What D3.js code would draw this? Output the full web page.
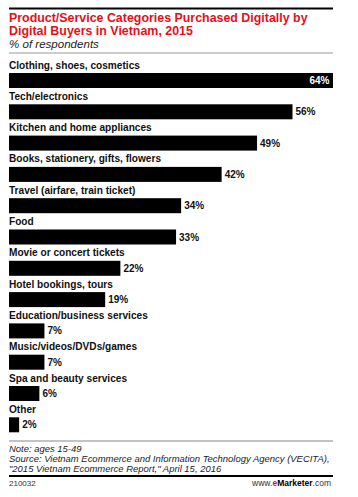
<!DOCTYPE html>
<html><head><meta charset="utf-8">
<script src="https://cdn.jsdelivr.net/npm/d3@7"></script>
<style>
html,body{margin:0;padding:0;background:#fff;}
svg{display:block;}
text{font-family:"Liberation Sans",Arial,sans-serif;}
</style>
</head><body>
<div id="chart"></div>
<script>
const categories = [
  "Clothing, shoes, cosmetics",
  "Tech/electronics",
  "Kitchen and home appliances",
  "Books, stationery, gifts, flowers",
  "Travel (airfare, train ticket)",
  "Food",
  "Movie or concert tickets",
  "Hotel bookings, tours",
  "Education/business services",
  "Music/videos/DVDs/games",
  "Spa and beauty services",
  "Other"
];
const values = [64, 56, 49, 42, 34, 33, 22, 19, 7, 7, 6, 2];
const titleLines = ["Product/Service Categories Purchased Digitally by", "Digital Buyers in Vietnam, 2015"];
const subtitle = "% of respondents";
const noteLines = ["Note: ages 15-49",
  "Source: Vietnam Ecommerce and Information Technology Agency (VECITA),",
  "\"2015 Vietnam Ecommerce Report,\" April 15, 2016"];
const chartId = "210032";

const W = 358, H = 497, L = 9, R = 333;
const svg = d3.select("#chart").append("svg").attr("width", W).attr("height", H);

function fit(sel, target) {
  let fs = parseFloat(sel.attr("font-size"));
  const w = sel.node().getComputedTextLength();
  sel.attr("font-size", fs * target / w);
}

// top rule
svg.append("rect").attr("x", L).attr("y", 7.5).attr("width", R - L).attr("height", 2).attr("fill", "#000");

const t1 = svg.append("text").attr("x", L).attr("y", 21.5).attr("font-size", 13).attr("font-weight", "bold")
  .attr("fill", "#e3101b").text(titleLines[0]);
fit(t1, 299);
const tfs = t1.attr("font-size");
svg.append("text").attr("x", L).attr("y", 35).attr("font-size", tfs).attr("font-weight", "bold")
  .attr("fill", "#e3101b").text(titleLines[1]);
const st = svg.append("text").attr("x", L).attr("y", 47.5).attr("font-size", 12).attr("font-style", "italic")
  .attr("fill", "#222").text(subtitle);
fit(st, 90);

svg.append("rect").attr("x", L).attr("y", 52.5).attr("width", R - L).attr("height", 1).attr("fill", "#999");

const x = d3.scaleLinear().domain([0, 64]).range([L, R]);
const y = d3.scaleBand().domain(categories).range([73, 73 + 31.3 * categories.length]).paddingInner(0).paddingOuter(0);
const barH = 15;

const g = svg.append("g");
const rows = g.selectAll("g.row").data(categories.map((c, i) => ({c, v: values[i]}))).join("g").attr("class", "row");

const labels = rows.append("text").attr("x", L).attr("y", d => y(d.c) - 4.5)
  .attr("font-size", 11).attr("font-weight", "bold").attr("fill", "#111").text(d => d.c);
// fit label font size using first label
fit(labels.filter((d, i) => i === 0), 131);
const lfs = labels.filter((d, i) => i === 0).attr("font-size");
labels.attr("font-size", lfs);

rows.append("rect").attr("x", x(0)).attr("y", d => y(d.c)).attr("width", d => x(d.v) - x(0)).attr("height", barH).attr("fill", "#000");

rows.append("text")
  .attr("x", (d, i) => i === 0 ? x(d.v) - 3.5 : x(d.v) + 3)
  .attr("y", d => y(d.c) + barH / 2 + 3.5)
  .attr("text-anchor", (d, i) => i === 0 ? "end" : "start")
  .attr("font-size", 10).attr("font-weight", "bold")
  .attr("fill", (d, i) => i === 0 ? "#fff" : "#111")
  .text(d => d.v + "%");

// footer
svg.append("rect").attr("x", L).attr("y", 440.5).attr("width", R - L).attr("height", 1).attr("fill", "#888");
const nl = svg.selectAll("text.note").data(noteLines).join("text").attr("class", "note")
  .attr("x", L).attr("y", (d, i) => 452 + i * 10).attr("font-size", 10).attr("font-style", "italic")
  .attr("fill", "#222").text(d => d);
fit(nl.filter((d, i) => i === 1), 321);
const nfs = nl.filter((d, i) => i === 1).attr("font-size");
nl.attr("font-size", nfs);

svg.append("rect").attr("x", L).attr("y", 475).attr("width", R - L).attr("height", 2).attr("fill", "#000");
svg.append("text").attr("x", L).attr("y", 486).attr("font-size", 8).attr("fill", "#333").text(chartId);
const em = svg.append("text").attr("x", 331).attr("y", 486).attr("font-size", 8.5).attr("text-anchor", "end").attr("fill", "#333");
em.append("tspan").text("www.");
em.append("tspan").attr("font-weight", "bold").attr("fill", "#e3101b").text("e");
em.append("tspan").attr("font-weight", "bold").attr("fill", "#000").text("Marketer");
em.append("tspan").text(".com");
</script>
</body></html>
